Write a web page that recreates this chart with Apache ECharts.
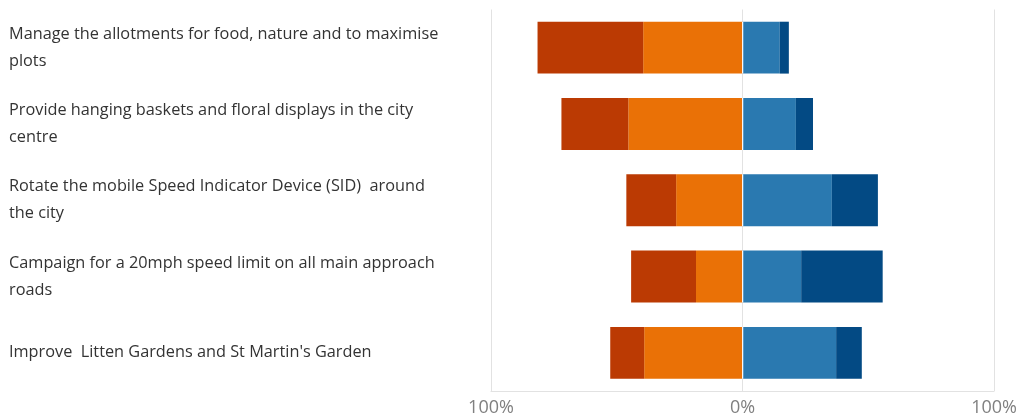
<!DOCTYPE html>
<html>
<head>
<meta charset="utf-8">
<script src="https://cdn.jsdelivr.net/npm/echarts@6/dist/echarts.min.js"></script>
<style>html,body{margin:0;padding:0;background:#fff}#chart{width:1020px;height:417px}</style>
</head>
<body>
<div id="chart"></div>
<script>
const categories = [
  "Manage the allotments for food, nature and to maximise\nplots",
  "Provide hanging baskets and floral displays in the city\ncentre",
  "Rotate the mobile Speed Indicator Device (SID)  around\nthe city",
  "Campaign for a 20mph speed limit on all main approach\nroads",
  "Improve  Litten Gardens and St Martin's Garden"
];
const darkRedValues = [42.0, 26.6, 19.8, 25.8, 13.5];
const orangeValues = [39.5, 45.4, 26.4, 18.5, 39.1];
const blueValues = [14.8, 21.2, 35.5, 23.3, 37.2];
const darkBlueValues = [3.6, 6.8, 18.3, 32.4, 10.2];
const xTicks = [-100, 0, 100];

const chart = echarts.init(document.getElementById('chart'));
const barBase = { type: 'bar', stack: 'total', barCategoryGap: '32%', emphasis: { disabled: true } };
chart.setOption({
  animation: false,
  textStyle: { fontFamily: 'Open Sans' },
  grid: { left: 491, right: 24, top: 9.5, bottom: 25.5, containLabel: false },
  xAxis: {
    type: 'value',
    min: xTicks[0], max: xTicks[xTicks.length - 1], interval: xTicks[1] - xTicks[0],
    axisLine: { show: true, lineStyle: { color: '#e2e2e2', width: 1 } },
    axisTick: { show: false },
    splitLine: { show: true, lineStyle: { color: '#e2e2e2', width: 1 } },
    axisLabel: {
      formatter: v => Math.abs(v) + '%',
      fontSize: 18, color: '#808080', margin: 8, fontFamily: 'Open Sans'
    }
  },
  yAxis: {
    type: 'category', inverse: true, data: categories,
    axisLine: { show: false }, axisTick: { show: false },
    axisLabel: {
      align: 'left', margin: 482, fontSize: 16.3, lineHeight: 27,
      padding: [5, 0, 0, 0],
      color: '#333333', fontFamily: 'Open Sans'
    }
  },
  series: [
    Object.assign({}, barBase, { name: 'Disagree', data: orangeValues.map(v => -v), itemStyle: { color: '#ea7106' } }),
    Object.assign({}, barBase, { name: 'Strongly disagree', data: darkRedValues.map(v => -v), itemStyle: { color: '#bb3a03' } }),
    Object.assign({}, barBase, { name: 'Agree', data: blueValues, itemStyle: { color: '#2a79b0' } }),
    Object.assign({}, barBase, { name: 'Strongly agree', data: darkBlueValues, itemStyle: { color: '#034a84' } }),
    {
      type: 'custom', z: 5, silent: true,
      data: categories.map((c, i) => [0, i]),
      encode: { x: 0, y: 1 },
      renderItem: function (params, api) {
        const p = api.coord([api.value(0), api.value(1)]);
        const h = api.size([0, 1])[1] * 0.68;
        return { type: 'rect', shape: { x: p[0] - 0.5, y: p[1] - h / 2, width: 1.2, height: h }, style: { fill: '#ffffff' } };
      }
    }
  ]
});
</script>
</body>
</html>
